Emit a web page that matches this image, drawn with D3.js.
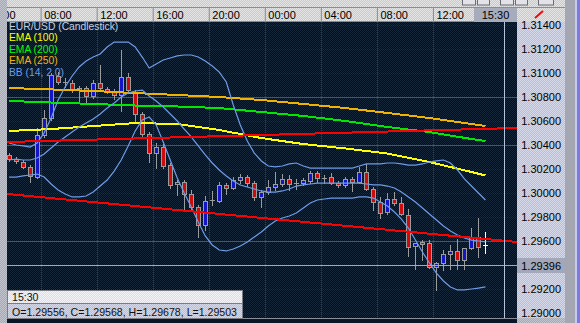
<!DOCTYPE html>
<html>
<head>
<meta charset="utf-8">
<title>EUR/USD (Candlestick)</title>
<style>
body { margin:0; background:#b4b6c0; }
svg { display:block; font-family:"Liberation Sans", Arial, sans-serif; }
</style>
<script src="https://cdnjs.cloudflare.com/ajax/libs/d3/7.8.5/d3.min.js"></script>
</head>
<body>
<svg id="chart" width="580" height="323"></svg>
<script>
// 30 minute candles, day 1 05:30 .. day 2 15:30
var candleTimes = ["05:30","06:00","06:30","07:00","07:30","08:00","08:30","09:00","09:30","10:00",
  "10:30","11:00","11:30","12:00","12:30","13:00","13:30","14:00","14:30","15:00",
  "15:30","16:00","16:30","17:00","17:30","18:00","18:30","19:00","19:30","20:00",
  "20:30","21:00","21:30","22:00","22:30","23:00","23:30","00:00","00:30","01:00",
  "01:30","02:00","02:30","03:00","03:30","04:00","04:30","05:00","05:30","06:00",
  "06:30","07:00","07:30","08:00","08:30","09:00","09:30","10:00","10:30","11:00",
  "11:30","12:00","12:30","13:00","13:30","14:00","14:30","15:00","15:30"];

var opens = [1.30317,1.30283,1.30258,1.30217,1.30133,1.30483,1.30625,1.30975,1.30925,1.30917,
  1.30875,1.30875,1.30808,1.30917,1.30867,1.30850,1.30817,1.30967,1.30842,1.30658,
  1.30492,1.30333,1.30383,1.30233,1.30075,1.30092,1.29992,1.29883,1.29733,1.29933,
  1.29933,1.30067,1.30042,1.30108,1.30133,1.30083,1.29967,1.30008,1.30050,1.30075,
  1.30117,1.30083,1.30083,1.30100,1.30167,1.30125,1.30133,1.30083,1.30067,1.30117,
  1.30092,1.30175,1.30033,1.29925,1.29842,1.29950,1.29917,1.29817,1.29558,1.29592,
  1.29583,1.29383,1.29417,1.29492,1.29517,1.29442,1.29542,1.29633,1.29556];
var highs = [1.30333,1.30300,1.30275,1.30233,1.30542,1.30692,1.31000,1.31008,1.30958,1.30942,
  1.30892,1.30892,1.30942,1.31067,1.30883,1.30867,1.31192,1.31000,1.30858,1.30675,
  1.30508,1.30417,1.30408,1.30250,1.30108,1.30108,1.30025,1.29900,1.29975,1.30017,
  1.30092,1.30083,1.30133,1.30158,1.30150,1.30100,1.30025,1.30108,1.30175,1.30158,
  1.30150,1.30117,1.30125,1.30183,1.30183,1.30150,1.30167,1.30100,1.30133,1.30133,
  1.30217,1.30242,1.30050,1.29967,1.30000,1.30008,1.29967,1.29867,1.29575,1.29608,
  1.29608,1.29425,1.29525,1.29567,1.29617,1.29467,1.29708,1.29792,1.29678];
var lows = [1.30267,1.30250,1.30208,1.30092,1.30125,1.30467,1.30608,1.30908,1.30883,1.30842,
  1.30750,1.30758,1.30792,1.30858,1.30833,1.30783,1.30683,1.30842,1.30592,1.30458,
  1.30258,1.30208,1.30208,1.30042,1.29983,1.29850,1.29858,1.29633,1.29692,1.29900,
  1.29925,1.29992,1.30033,1.30083,1.30058,1.29942,1.29883,1.29992,1.30025,1.30058,
  1.30025,1.30033,1.30067,1.30083,1.30092,1.30083,1.30075,1.30050,1.30050,1.30017,
  1.30083,1.30025,1.29858,1.29792,1.29825,1.29900,1.29817,1.29475,1.29367,1.29442,
  1.29375,1.29192,1.29358,1.29367,1.29367,1.29367,1.29533,1.29467,1.29503];
var closes = [1.30283,1.30267,1.30217,1.30142,1.30483,1.30625,1.30983,1.30925,1.30921,1.30858,
  1.30858,1.30808,1.30917,1.30875,1.30850,1.30817,1.30967,1.30858,1.30658,1.30492,
  1.30333,1.30383,1.30225,1.30067,1.30092,1.29992,1.29883,1.29733,1.29933,1.29938,
  1.30067,1.30042,1.30108,1.30133,1.30083,1.29967,1.30008,1.30050,1.30075,1.30117,
  1.30075,1.30079,1.30108,1.30167,1.30125,1.30129,1.30083,1.30067,1.30117,1.30092,
  1.30175,1.30033,1.29925,1.29833,1.29950,1.29917,1.29825,1.29550,1.29583,1.29579,
  1.29383,1.29417,1.29492,1.29517,1.29442,1.29542,1.29625,1.29550,1.29568];

// Bollinger bands (14, 2.0), one value per candle
var bbUpper = [1.30417,1.30400,1.30392,1.30383,1.30417,1.30500,1.30625,1.30775,1.30883,1.30975,
  1.31050,1.31100,1.31133,1.31158,1.31217,1.31258,1.31258,1.31258,1.31217,1.31133,
  1.31042,1.31075,1.31108,1.31125,1.31142,1.31150,1.31150,1.31133,1.31100,1.31058,
  1.31008,1.30925,1.30733,1.30567,1.30433,1.30333,1.30267,1.30225,1.30217,1.30225,
  1.30242,1.30250,1.30225,1.30208,1.30208,1.30208,1.30208,1.30208,1.30208,1.30208,
  1.30225,1.30242,1.30242,1.30242,1.30250,1.30250,1.30242,1.30233,1.30233,1.30242,
  1.30258,1.30267,1.30275,1.30250,1.30192,1.30117,1.30058,1.30000,1.29942];
var bbMiddle = [1.30275,1.30283,1.30275,1.30275,1.30292,1.30325,1.30375,1.30425,1.30467,1.30508,
  1.30550,1.30583,1.30617,1.30658,1.30708,1.30750,1.30800,1.30833,1.30850,1.30858,
  1.30808,1.30767,1.30717,1.30658,1.30600,1.30533,1.30467,1.30392,1.30317,1.30250,
  1.30192,1.30142,1.30100,1.30067,1.30050,1.30033,1.30017,1.30008,1.30008,1.30017,
  1.30033,1.30058,1.30067,1.30075,1.30083,1.30083,1.30083,1.30083,1.30083,1.30083,
  1.30083,1.30075,1.30067,1.30067,1.30058,1.30042,1.30008,1.29967,1.29925,1.29875,
  1.29825,1.29775,1.29725,1.29683,1.29650,1.29625,1.29608,1.29600,1.29592];
var bbLower = [1.30133,1.30133,1.30142,1.30150,1.30158,1.30133,1.30075,1.30025,1.29992,1.29967,
  1.29967,1.29975,1.30008,1.30058,1.30108,1.30183,1.30275,1.30392,1.30517,1.30608,
  1.30633,1.30567,1.30425,1.30275,1.30125,1.30000,1.29883,1.29758,1.29642,1.29567,
  1.29525,1.29517,1.29533,1.29558,1.29592,1.29633,1.29675,1.29725,1.29767,1.29792,
  1.29808,1.29833,1.29875,1.29917,1.29942,1.29950,1.29958,1.29958,1.29958,1.29958,
  1.29967,1.29967,1.29958,1.29925,1.29892,1.29842,1.29783,1.29708,1.29608,1.29508,
  1.29417,1.29333,1.29267,1.29217,1.29192,1.29192,1.29200,1.29208,1.29217];

// moving averages, read every 3 hours
var emaTimes = ["05:30","08:30","11:30","14:30","17:30","20:30","23:30","02:30","05:30","08:30","11:30","14:30","15:30"];
var ema100 = [1.30517,1.30533,1.30558,1.30583,1.30575,1.30525,1.30458,1.30408,1.30371,1.30329,1.30258,1.30175,1.30146];
var ema200 = [1.30767,1.30754,1.30742,1.30729,1.30721,1.30708,1.30675,1.30642,1.30600,1.30550,1.30508,1.30450,1.30433];
var ema250 = [1.30875,1.30863,1.30850,1.30833,1.30817,1.30800,1.30775,1.30742,1.30708,1.30667,1.30625,1.30575,1.30558];

var timeTicks = ["04:00","08:00","12:00","16:00","20:00","00:00","04:00","08:00","12:00"];
var priceTicks = [1.314,1.312,1.310,1.308,1.306,1.304,1.302,1.300,1.298,1.296,1.294,1.292,1.290];
var levels = [1.308,1.304,1.296];
// drawn trend lines: [day, time, price]
var trendLines = [[[0,"05:36",1.30425],[1,"18:00",1.30542]],
                  [[0,"05:36",1.29992],[1,"18:00",1.29592]]];
var view = [[0,"05:36"],[1,"18:00"]];
var cursor = {day:1, time:"17:04", price:1.29396, label:"15:30"};

var base = new Date(2010, 10, 8).getTime();
function at(day, s) {
  var hm = s.split(":");
  return new Date(base + (day * 1440 + (+hm[0]) * 60 + (+hm[1])) * 60000);
}
function seq(list) {
  var day = 0, prev = -1;
  return list.map(function (s) {
    var hm = s.split(":"), m = (+hm[0]) * 60 + (+hm[1]);
    if (m < prev) day++;
    prev = m;
    return at(day, s);
  });
}

var L = 7, R = 517, T = 22, B = 318;
var svg = d3.select("#chart");
var defs = svg.append("defs");
function dither(id, a, b) {
  var p = defs.append("pattern").attr("id", id).attr("width", 2).attr("height", 2)
    .attr("patternUnits", "userSpaceOnUse");
  p.append("rect").attr("width", 2).attr("height", 2).attr("fill", a);
  p.append("rect").attr("width", 1).attr("height", 1).attr("fill", b);
  p.append("rect").attr("x", 1).attr("y", 1).attr("width", 1).attr("height", 1).attr("fill", b);
}
dither("frame", "#a6a8b4", "#c2c4ce");
dither("bar", "#c8c8c8", "#e6e6e6");
dither("plot", "#040e19", "#142638");
dither("axis", "#b8bcd4", "#d6daea");
dither("info", "#dcdce4", "#f4f4f8");
defs.append("clipPath").attr("id", "clipPlot").append("rect")
  .attr("x", L).attr("y", T).attr("width", R - L).attr("height", B - T);
defs.append("clipPath").attr("id", "clipBar").append("rect")
  .attr("x", L).attr("y", 8).attr("width", R - L).attr("height", 14);

var x = d3.scaleTime().domain([at(view[0][0], view[0][1]), at(view[1][0], view[1][1])]).range([L, R]);
var y = d3.scaleLinear().domain([1.2895833, 1.31425]).range([B, T]);
var half = function (t) { return x(d3.timeMinute.offset(t, 15)); };

var times = seq(candleTimes);
var candles = times.map(function (t, i) {
  return {t: t, o: opens[i], h: highs[i], l: lows[i], c: closes[i]};
});

// frame
svg.append("rect").attr("width", 580).attr("height", 323).attr("fill", "url(#frame)");
svg.append("rect").attr("x", L).attr("y", 0).attr("width", 558).attr("height", 22).attr("fill", "url(#bar)");
svg.append("line").attr("x1", L).attr("x2", 565).attr("y1", 7.5).attr("y2", 7.5).attr("stroke", "#8c8c94");
[[462, 13], [477, 12], [500, 13], [515, 12], [538, 15]].forEach(function (b) {
  svg.append("rect").attr("x", b[0] + 0.5).attr("y", -1).attr("width", b[1]).attr("height", 6)
    .attr("fill", "#e2e2e8").attr("stroke", "#6c6c74");
});
svg.append("rect").attr("x", 565).attr("y", 0).attr("width", 10).attr("height", 323).attr("fill", "#a4a6b2");
svg.append("rect").attr("x", 575).attr("y", 0).attr("width", 2).attr("height", 323).attr("fill", "#c8c8f4");
svg.append("rect").attr("x", 577).attr("y", 0).attr("width", 3).attr("height", 323).attr("fill", "#7a7ae0");

// plot background + grid
svg.append("rect").attr("x", L).attr("y", T).attr("width", R - L).attr("height", B - T).attr("fill", "url(#plot)");
var tickDates = seq(timeTicks);
var grid = svg.append("g").attr("clip-path", "url(#clipPlot)");
grid.selectAll(".hg").data(priceTicks).enter().append("line")
  .attr("x1", L).attr("x2", R)
  .attr("y1", function (d) { return Math.round(y(d)) + 0.5; })
  .attr("y2", function (d) { return Math.round(y(d)) + 0.5; })
  .attr("stroke", "#1a3350").attr("stroke-dasharray", "1,1");
grid.selectAll(".vg").data(tickDates).enter().append("line")
  .attr("y1", T).attr("y2", B)
  .attr("x1", function (d) { return Math.round(x(d)) + 0.5; })
  .attr("x2", function (d) { return Math.round(x(d)) + 0.5; })
  .attr("stroke", "#21405e").attr("stroke-dasharray", "1,1");
grid.selectAll(".lv").data(levels).enter().append("line")
  .attr("x1", L).attr("x2", R)
  .attr("y1", function (d) { return Math.round(y(d)) + 0.5; })
  .attr("y2", function (d) { return Math.round(y(d)) + 0.5; })
  .attr("stroke", "#4c545e");

var plot = svg.append("g").attr("clip-path", "url(#clipPlot)");

// candles
var cg = plot.selectAll(".candle").data(candles).enter().append("g");
var last = candles.length - 1;
cg.append("line")
  .attr("x1", function (d) { return Math.round(half(d.t)) + 0.5; })
  .attr("x2", function (d) { return Math.round(half(d.t)) + 0.5; })
  .attr("y1", function (d) { return Math.round(y(d.h)); })
  .attr("y2", function (d) { return Math.round(y(d.l)) + 1; })
  .attr("stroke", function (d, i) { return i === last ? "#ffffff" : "#9c9c9c"; });
cg.each(function (d, i) {
  var g = d3.select(this), cx = Math.round(half(d.t));
  var top = Math.round(y(Math.max(d.o, d.c))), bot = Math.round(y(Math.min(d.o, d.c)));
  if (bot - top < 2) {
    g.append("line").attr("x1", cx - 2).attr("x2", cx + 3)
      .attr("y1", top + 0.5).attr("y2", top + 0.5)
      .attr("stroke", i === last ? "#ffffff" : "#9c9c9c");
  } else {
    g.append("rect").attr("x", cx - 1.5).attr("y", top + 0.5)
      .attr("width", 4).attr("height", bot - top)
      .attr("fill", d.c >= d.o ? "#1414c8" : "#cc0c0c")
      .attr("stroke", "#9c9c9c");
  }
});

// indicators
function path(vals, ts, color, w, crisp) {
  var line = d3.line().x(function (d) { return half(d[0]); }).y(function (d) { return y(d[1]); });
  plot.append("path").datum(ts.map(function (t, i) { return [t, vals[i]]; }))
    .attr("d", line).attr("fill", "none").attr("stroke", color).attr("stroke-width", w)
    .attr("shape-rendering", crisp ? "crispEdges" : null);
}
var emaDates = seq(emaTimes);
path(ema250, emaDates, "#f0b400", 2, true);
path(ema200, emaDates, "#00e800", 2, true);
path(ema100, emaDates, "#ffff00", 2, true);
path(bbUpper, times, "#6e9ce8", 1.2);
path(bbMiddle, times, "#6e9ce8", 1.2);
path(bbLower, times, "#6e9ce8", 1.2);

plot.selectAll(".trend").data(trendLines).enter().append("line")
  .attr("x1", function (d) { return x(at(d[0][0], d[0][1])); })
  .attr("y1", function (d) { return y(d[0][2]); })
  .attr("x2", function (d) { return x(at(d[1][0], d[1][1])); })
  .attr("y2", function (d) { return y(d[1][2]); })
  .attr("stroke", "#ff0000").attr("stroke-width", 2).attr("shape-rendering", "crispEdges");

// crosshair
var cx0 = Math.round(x(at(cursor.day, cursor.time))) + 0.5;
var cy0 = Math.round(y(cursor.price)) + 0.5;
plot.append("line").attr("x1", L).attr("x2", R).attr("y1", cy0).attr("y2", cy0).attr("stroke", "#a2aab4");
plot.append("line").attr("x1", cx0).attr("x2", cx0).attr("y1", T).attr("y2", B).attr("stroke", "#b4c4dc");

// time axis (clip on an untransformed group)
var xAxis = d3.axisTop(x).tickValues(tickDates).tickSize(14).tickFormat(function (d, i) { return timeTicks[i]; });
var gx = svg.append("g").attr("clip-path", "url(#clipBar)")
  .append("g").attr("transform", "translate(0," + T + ")").call(xAxis);
gx.select(".domain").remove();
gx.selectAll(".tick line").attr("stroke", "#8a8a8a");
gx.selectAll(".tick text").attr("x", 3).attr("y", -3).attr("dy", null).attr("text-anchor", "start")
  .attr("fill", "#000").attr("font-size", "11px").attr("font-family", "Liberation Sans, Arial, sans-serif");
svg.append("line").attr("x1", L).attr("x2", R).attr("y1", T - 0.5).attr("y2", T - 0.5).attr("stroke", "#8a8a8a");
svg.append("rect").attr("x", R - 43).attr("y", 8).attr("width", 43).attr("height", 14).attr("fill", "#a6acbc");
svg.append("text").attr("x", R - 21.5).attr("y", 19).attr("text-anchor", "middle")
  .attr("font-size", "11px").attr("fill", "#000").text(cursor.label);
svg.append("line").attr("x1", 535).attr("y1", 18).attr("x2", 543).attr("y2", 11)
  .attr("stroke", "#e01010").attr("stroke-width", 2);

// price axis; the cursor box hides the label under it
svg.append("rect").attr("x", R).attr("y", T).attr("width", 565 - R).attr("height", B - T).attr("fill", "url(#axis)");
var labelTicks = priceTicks.filter(function (p) { return Math.abs(y(p) - y(cursor.price)) > 9; });
var yAxis = d3.axisRight(y).tickValues(labelTicks).tickSize(0).tickFormat(d3.format(".5f"));
var gy = svg.append("g").attr("transform", "translate(" + R + ",0)").call(yAxis);
gy.select(".domain").remove();
svg.append("rect").attr("x", R).attr("y", cy0 - 7.5).attr("width", 565 - R).attr("height", 15).attr("fill", "#a2a8ba");
svg.append("text").attr("x", R + 44).attr("y", cy0 + 4).attr("text-anchor", "end").attr("font-size", "11px")
  .attr("fill", "#000").text(d3.format(".5f")(cursor.price));
gy.selectAll(".tick text").attr("x", 44).attr("text-anchor", "end").attr("fill", "#000")
  .attr("font-size", "11px").attr("font-family", "Liberation Sans, Arial, sans-serif");

// legend
var legend = [["EUR/USD (Candlestick)", "#c6d0e2"], ["EMA (100)", "#ffff00"], ["EMA (200)", "#00ff00"],
              ["EMA (250)", "#f8b400"], ["BB (14, 2.0)", "#6e9ce8"]];
svg.selectAll(".leg").data(legend).enter().append("text")
  .attr("x", 9).attr("y", function (d, i) { return 30 + i * 11.4; })
  .attr("font-size", "10.3px").attr("fill", function (d) { return d[1]; })
  .text(function (d) { return d[0]; });

// bottom strip
svg.append("rect").attr("x", L).attr("y", B + 1).attr("width", R - L).attr("height", 323 - B).attr("fill", "#081628");
svg.append("line").attr("x1", L).attr("x2", R).attr("y1", B + 0.5).attr("y2", B + 0.5).attr("stroke", "#8a8e98");

// info box for the candle under the cursor
var lc = candles[last], f = d3.format(".5f");
svg.append("rect").attr("x", L + 0.5).attr("y", 290.5).attr("width", 235).attr("height", 13).attr("fill", "url(#info)").attr("stroke", "#7c7c84");
svg.append("rect").attr("x", L + 0.5).attr("y", 303.5).attr("width", 235).attr("height", 15).attr("fill", "url(#axis)").attr("stroke", "#7c7c84");
svg.append("text").attr("x", 12).attr("y", 301).attr("font-size", "10.6px").attr("fill", "#101010").text(cursor.label);
svg.append("text").attr("x", 12).attr("y", 315.5).attr("font-size", "10.6px").attr("fill", "#101010")
  .text("O=" + f(lc.o) + ", C=" + f(lc.c) + ", H=" + f(lc.h) + ", L=" + f(lc.l));
</script>
</body>
</html>
